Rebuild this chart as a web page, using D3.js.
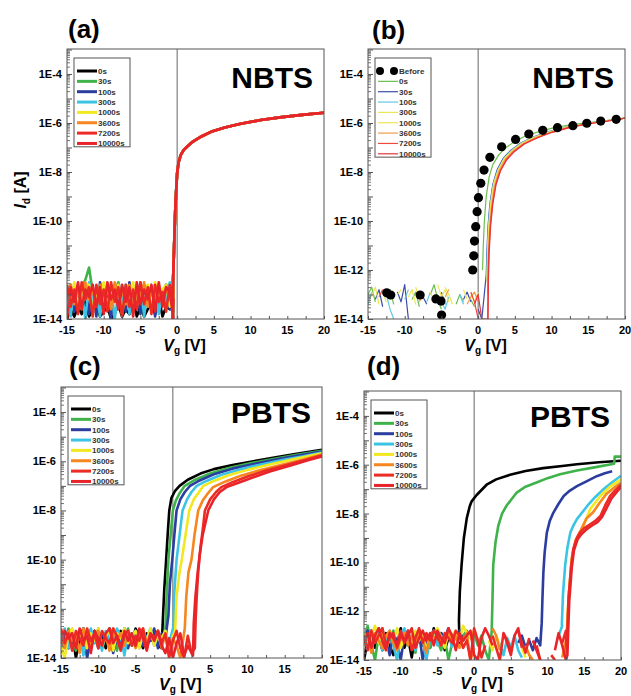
<!DOCTYPE html>
<html>
<head>
<meta charset="utf-8">
<script src="https://cdn.jsdelivr.net/npm/d3@7/dist/d3.min.js"></script>
<style>
body { margin: 0; background: #fff; }
svg { display: block; }
text { font-family: "Liberation Sans", Arial, sans-serif; }
</style>
</head>
<body>
<svg id="fig" width="631" height="696"></svg>
<script>
// stress times shown in every legend
var stressTimes = ['0s', '30s', '100s', '300s', '1000s', '3600s', '7200s', '10000s'];

// gate voltage sweep points used for the off-state (noise) part of each curve
var sweepVg = [-15, -14.5, -14, -13.5, -13, -12.5, -12, -11.5, -11, -10.5, -10, -9.5, -9, -8.5, -8, -7.5, -7, -6.5, -6, -5.5,
    -5, -4.5, -4, -3.5, -3, -2.5, -2, -1.5, -1, -0.5, 0, 0.5, 1, 1.5, 2, 2.5, 3, 3.5, 4, 4.5, 5, 5.5, 6, 6.5, 7, 7.5, 8, 8.5,
    9, 9.5, 10, 10.5, 11, 11.5, 12, 12.5];

// x/y tick labels
var xTicks = [-15, -10, -5, 0, 5, 10, 15, 20];
var yTickExps = [-4, -6, -8, -10, -12, -14];

// ---- (a) NBTS, log10(Id) of the noise floor, one list per stress time
var noiseA = [
    [-14, -13.6, -13.9, -13.5, -13.8, -13.3, -13.9, -13.6, -13.4, -13.9, -13.7, -13.5, -14, -13.8, -13.4, -13.9, -13.6, -13.8, -13.2, -13.9, -13.5, -13.9, -13.6, -13.3, -13.8, -13.1, -13.9, -13.5, -13.6, -13.3],
    [-12.6, -13.4, -12.8, -13.5, -12.7, -12.4, -11.9, -12.9, -13.4, -12.7, -13.2, -12.6, -13.5, -12.9, -12.5, -13.3, -12.8, -13.6, -12.7, -13.1, -12.6, -13.4, -12.8, -13.2, -12.6, -13.5, -12.9, -12.6, -13.3, -12.7],
    [-13.2, -12.6, -13.7, -12.8, -13.5, -12.6, -13.8, -12.7, -13.9, -12.5, -13.6, -12.9, -14, -12.6, -13.4, -12.8, -13.7, -12.5, -13.3, -12.9, -13.8, -12.6, -13.5, -12.7, -13.9, -12.8, -13.4, -12.6, -13.6, -12.9],
    [-12.8, -13.9, -12.6, -13.4, -12.9, -14, -12.5, -13.3, -12.8, -13.9, -12.6, -13.5, -12.7, -14, -12.9, -13.4, -12.6, -13.8, -12.8, -13.2, -12.5, -13.9, -12.7, -13.5, -12.6, -13.8, -12.9, -13.3, -12.5, -13.1],
    [-12.7, -13.3, -12.5, -13.6, -12.8, -13.1, -12.6, -13.7, -12.9, -13.2, -12.5, -13.6, -12.7, -13.3, -12.6, -13.8, -12.8, -13.1, -12.5, -13.5, -12.7, -12.9, -12.6, -13.4, -12.5, -13.2, -12.8, -12.6, -13.5, -12.7],
    [-13.1, -12.6, -13.4, -12.7, -13.6, -12.5, -13.2, -12.8, -13.5, -12.6, -13.3, -12.7, -13.6, -12.5, -13.1, -12.8, -13.4, -12.6, -13.7, -12.7, -13.2, -12.5, -13.5, -12.8, -13.3, -12.6, -13.4, -12.7, -13.2, -12.8],
    [-12.6, -13.5, -12.8, -13.8, -12.5, -13.2, -12.7, -13.9, -12.6, -13.4, -12.8, -13.7, -12.5, -13.3, -12.7, -13.9, -12.6, -13.5, -12.8, -13.6, -12.5, -13.4, -12.7, -13.8, -12.6, -13.3, -12.9, -13.7, -12.6, -13.2],
    [-14, -12.7, -13.3, -12.5, -13.6, -12.8, -13.1, -12.6, -13.5, -12.7, -13.8, -12.5, -13.2, -12.8, -13.6, -12.6, -13.3, -12.7, -13.9, -12.5, -13.4, -12.8, -13.2, -12.6, -13.7, -12.5, -13.5, -12.7, -12.9, -14]
];
// (a) on-state: all stress times overlap, [Vg, log10(Id)]
var curveA = [[-0.6, -14], [-0.55, -12.4], [-0.45, -11.4], [-0.35, -10.4], [-0.25, -9.5], [-0.12, -8.7], [0, -8.05], [0.2, -7.6],
    [0.5, -7.3], [0.9, -7.1], [1.4, -6.95], [2.2, -6.75], [3.3, -6.55], [4.6, -6.36], [6.5, -6.18], [8.5, -6.04], [11.4, -5.88],
    [14, -5.77], [17, -5.67], [20, -5.58]];

// ---- (b) NBTS with "Before" reference
var beforeB = [[-12.45, -12.93], [-11.9, -13.02], [-7.9, -13.02], [-5.75, -13.18], [-5.06, -13.27], [-4.98, -13.84],
    [-0.74, -12.0], [-0.6, -11.42], [-0.5, -10.82], [-0.33, -10.23], [-0.14, -9.62], [0.04, -9.05], [0.36, -8.46], [0.8, -7.92],
    [1.6, -7.4], [3.2, -6.97], [5.1, -6.67], [6.9, -6.45], [8.8, -6.3], [10.8, -6.19], [12.9, -6.11], [14.8, -6.01], [16.7, -5.92], [18.8, -5.85]];
var noiseB = [
    [-13.0, -12.7, -13.3, null, null, -13.1, -12.8, -13.4, null, null, null, null, -13.2, -12.9, -13.5, null, null, -13.0, -12.6, -13.2, -13.6, null, null, null, -13.4, -13.0, -13.3, null, -13.2, -13.5, null, null],
    [null, null, -13.2, -12.8, -13.5, null, null, null, -12.9, -13.3, -12.6, -14, null, null, null, -13.1, -13.4, null, null, null, -12.9, -13.4, null, null, null, null, -13.2, -12.9, -13.3, null, -13.6, -14],
    [-13.4, -12.9, null, null, null, -13.0, -13.6, -14, null, null, -13.2, -12.8, null, null, null, null, -13.3, -12.9, null, null, -13.3, -13.6, -13.1, null, null, -13.0, -13.4, null, null, null, null, null],
    [null, -13.1, -12.7, -13.4, null, null, null, null, -13.0, -12.8, null, null, null, -12.7, -13.2, -12.9, null, null, null, -12.6, -13.1, -12.8, -13.3, null, null, null, -12.8, -13.2, null, null, null, null],
    [null, null, null, null, -12.9, -13.3, null, null, null, null, null, -13.1, -12.8, -13.4, null, null, null, -12.9, -13.3, null, null, -12.7, -13.0, -13.4, null, null, null, null, -13.0, -13.3, -12.9, null],
    [null, null, -13.0, null, null, null, -13.2, -12.9, null, null, null, null, null, null, -13.3, -13.0, null, null, null, null, null, -13.1, -12.8, null, null, null, null, -13.4, -13.1, -12.9, -13.3, null],
    [null, null, null, -13.1, -12.8, null, null, null, null, null, null, null, null, null, null, null, null, null, null, null, null, null, null, null, null, null, null, null, -12.9, -13.3, -14, null],
    [null, null, null, null, null, null, null, null, null, null, null, null, null, null, null, null, null, null, null, null, null, null, null, null, null, null, null, null, null, -13.4, -13.0, -14]
];
var curvesB = [
    [[0.6, -12.0], [0.7, -11.0], [0.85, -10.0], [1.1, -9.0], [1.5, -8.2], [2.0, -7.7], [2.8, -7.3], [3.8, -7.0], [5, -6.75], [6.5, -6.52], [8.5, -6.33], [10.5, -6.18], [13, -6.06], [15.5, -5.97], [18, -5.88], [20, -5.8]],
    [[1.1, -12.2], [1.2, -11.2], [1.35, -10.2], [1.6, -9.3], [2.0, -8.5], [2.6, -7.9], [3.4, -7.45], [4.5, -7.1], [5.8, -6.82], [7.5, -6.57], [9.5, -6.36], [12, -6.17], [14.5, -6.03], [17, -5.93], [20, -5.8]],
    [[1.15, -12.3], [1.25, -11.2], [1.4, -10.2], [1.65, -9.3], [2.05, -8.5], [2.7, -7.9], [3.5, -7.45], [4.6, -7.1], [5.9, -6.82], [7.6, -6.57], [9.6, -6.36], [12, -6.17], [14.5, -6.03], [17, -5.93], [20, -5.8]],
    [[1.2, -12.4], [1.3, -11.2], [1.45, -10.2], [1.7, -9.3], [2.1, -8.5], [2.75, -7.9], [3.55, -7.45], [4.7, -7.1], [6.0, -6.82], [7.7, -6.57], [9.7, -6.37], [12, -6.18], [14.5, -6.04], [17, -5.93], [20, -5.8]],
    [[1.25, -12.5], [1.32, -11.2], [1.5, -10.2], [1.75, -9.3], [2.15, -8.5], [2.8, -7.92], [3.6, -7.47], [4.75, -7.12], [6.05, -6.84], [7.8, -6.58], [9.8, -6.37], [12, -6.18], [14.5, -6.04], [17, -5.93], [20, -5.8]],
    [[1.3, -13.0], [1.35, -11.8], [1.5, -10.6], [1.75, -9.6], [2.2, -8.6], [2.85, -7.95], [3.7, -7.48], [4.8, -7.13], [6.1, -6.85], [7.9, -6.59], [9.9, -6.38], [12.2, -6.18], [14.8, -6.03], [17.2, -5.93], [20, -5.8]],
    [[1.3, -14], [1.35, -12.5], [1.45, -11.3], [1.65, -10.2], [1.95, -9.3], [2.4, -8.5], [3.0, -7.95], [3.8, -7.5], [4.9, -7.15], [6.2, -6.86], [8, -6.6], [10, -6.38], [12.5, -6.18], [15, -6.03], [17.5, -5.93], [20, -5.8]],
    [[1.35, -14], [1.4, -12.5], [1.5, -11.3], [1.7, -10.2], [2.0, -9.3], [2.45, -8.5], [3.05, -7.95], [3.9, -7.5], [5.0, -7.15], [6.3, -6.86], [8.1, -6.6], [10.1, -6.38], [12.5, -6.18], [15, -6.03], [17.5, -5.93], [20, -5.8]]
];

// ---- (c) PBTS, moderate shift
var noiseC = [
    [-13.3, -12.9, -13.6, -13.0, -14, -13.2, -12.8, -13.5, -13.1, -12.9, -13.4, -13.0, -13.6, -12.8, -13.2, -13.5, -12.9, -13.3, -13.0, -13.4, -12.8, -13.1, -13.6, -13.0, -13.3, -12.9, -13.5],
    [-13.0, -13.5, -12.8, -13.3, -13.7, -12.9, -13.2, -13.9, -13.0, -13.4, -12.8, -13.6, -13.1, -13.3, -12.9, -13.7, -13.0, -13.2, -12.8, -13.5, -13.1, -13.4, -12.9, -13.6, -13.0, -13.2, -12.9, -13.4],
    [-13.8, -13.1, -12.9, -13.5, -13.0, -13.7, -12.8, -14, -13.2, -12.9, -13.6, -13.0, -13.3, -12.9, -13.8, -13.1, -13.4, -12.8, -13.6, -13.0, -13.2, -12.9, -13.5, -13.1, -13.3, -12.8, -13.6, -13.0, -13.2],
    [-13.2, -12.8, -13.6, -13.0, -13.3, -12.9, -13.9, -13.1, -12.8, -13.4, -13.0, -13.7, -12.9, -13.2, -13.5, -12.8, -13.1, -13.9, -13.0, -13.3, -12.9, -13.6, -13.0, -13.2, -12.8, -13.5, -13.1, -13.3, -12.9, -13.4],
    [-13.5, -14, -13.0, -12.8, -13.4, -13.1, -12.9, -13.6, -13.0, -13.3, -12.8, -13.5, -13.1, -12.9, -13.7, -13.0, -13.2, -12.8, -13.4, -13.1, -12.9, -13.6, -13.0, -13.3, -12.8, -13.5, -13.0, -13.2, -12.9, -13.6, -13.1],
    [-13.1, -13.6, -12.9, -13.3, -13.0, -13.8, -12.8, -13.2, -13.5, -13.0, -12.9, -13.4, -13.1, -13.7, -12.8, -13.3, -13.0, -13.5, -12.9, -13.2, -13.6, -13.0, -12.8, -13.4, -13.1, -13.3, -12.9, -13.6, -13.0, -13.9, -13.2, -13.5, -14],
    [-12.8, -13.4, -13.0, -13.7, -12.9, -13.2, -13.5, -12.8, -13.3, -13.0, -13.6, -12.9, -13.2, -13.4, -12.8, -13.1, -13.7, -13.0, -12.9, -13.5, -13.1, -13.3, -12.8, -13.6, -13.0, -13.2, -12.9, -13.4, -13.0, -14, -13.3, -12.9, -13.6, -14, -13.1, -13.8],
    [-13.4, -12.9, -13.2, -13.0, -13.6, -12.8, -13.3, -13.1, -13.8, -12.9, -13.2, -13.5, -13.0, -12.8, -13.4, -13.1, -13.6, -12.9, -13.3, -13.0, -13.5, -12.8, -13.2, -13.7, -13.0, -13.3, -12.9, -13.5, -13.8, -13.2, -14, -13.4, -13.0, -13.9, -13.5]
];
var curvesC = [
    [[-1.5, -13.6], [-1.35, -12.5], [-1.15, -11.2], [-0.9, -10.0], [-0.7, -9.0], [-0.48, -8.0], [-0.2, -7.5], [0.3, -7.2], [0.9, -7.0], [2, -6.75], [3.7, -6.5], [5.5, -6.32], [8, -6.15], [10.8, -6.0], [14, -5.83], [17, -5.68], [20, -5.53]],
    [[-1.0, -12.8], [-0.85, -11.6], [-0.6, -10.0], [-0.3, -9.0], [0, -8.0], [0.4, -7.6], [0.9, -7.3], [1.6, -7.0], [3, -6.75], [5, -6.5], [7.5, -6.27], [10.5, -6.07], [14, -5.88], [17, -5.72], [20, -5.57]],
    [[-0.6, -12.3], [-0.4, -11.0], [-0.08, -10.0], [0.2, -9.0], [0.5, -8.0], [1.0, -7.55], [1.6, -7.25], [2.3, -7.0], [3.6, -6.78], [5.5, -6.53], [8, -6.3], [11, -6.1], [14, -5.92], [17, -5.76], [20, -5.6]],
    [[0.1, -12.7], [0.2, -11.3], [0.5, -10.0], [0.9, -9.0], [1.3, -8.0], [1.9, -7.55], [2.5, -7.25], [3.2, -7.0], [4.5, -6.8], [6.5, -6.55], [9, -6.33], [12, -6.12], [15, -5.93], [17.5, -5.8], [20, -5.64]],
    [[0.3, -12.9], [0.5, -11.5], [0.9, -10.5], [1.2, -10.0], [1.7, -9.0], [2.2, -8.0], [2.8, -7.55], [3.4, -7.3], [4.1, -7.0], [5.5, -6.8], [7.5, -6.57], [10, -6.35], [13, -6.13], [16, -5.93], [20, -5.68]],
    [[1.6, -12.8], [1.8, -11.5], [2.1, -10.5], [2.5, -10.0], [2.9, -9.0], [3.4, -8.0], [4.0, -7.6], [4.7, -7.3], [5.4, -7.05], [7, -6.83], [9, -6.6], [11.5, -6.38], [14.5, -6.15], [17.5, -5.93], [20, -5.72]],
    [[2.95, -13.6], [3.05, -12.5], [3.2, -11.5], [3.4, -10.5], [3.7, -9.5], [4.0, -8.8], [4.3, -8.0], [5.0, -7.55], [5.8, -7.25], [6.5, -7.05], [8, -6.85], [10, -6.62], [12.5, -6.38], [15.5, -6.13], [18, -5.93], [20, -5.76]],
    [[2.7, -13.9], [2.8, -12.6], [3.0, -11.6], [3.3, -10.6], [3.6, -9.8], [4.0, -9.0], [4.75, -8.0], [5.5, -7.55], [6.3, -7.25], [7.2, -7.05], [8.8, -6.87], [10.8, -6.65], [13, -6.42], [15.8, -6.17], [18, -5.97], [20, -5.8]]
];

// ---- (d) PBTS, large shift
var noiseD = [
    [-14, -13.2, -12.8, -13.5, -13.0, -13.6, -12.9, -13.4, -13.8, -13.2, -12.7, -13.5, -13.1, -13.9, -13.0, -12.8, -13.4, -13.0, -13.5, -12.7, -13.3, -12.9, -13.6, -13.1, -13.2, -12.9, -13.3],
    [-13.1, -12.6, -13.4, -14, -13.0, -12.7, -13.5, -13.2, -12.8, -13.6, -13.1, -12.9, -13.4, -13.0, -13.7, -12.8, -13.3, -13.0, -13.5, -12.9, -13.2, -13.6, -13.1, -14, -13.3, -12.9, -13.2, -13.0, -12.8, -13.1, -12.9, -13.4, -13.0, -13.6, -14],
    [-13.2, -12.8, -13.6, -13.0, -12.7, -13.4, -13.1, -13.8, -12.9, -13.3, -14, -13.0, -12.8, -13.5, -13.1, -12.9, -14, -13.2, -13.0, -12.8, -13.3, -12.9, -13.1, -12.7, -13.4, -13.0, -12.8, -13.2, -12.9, -13.1, null, null, null, null, null, null, null, null, null, null, null, null, -13.3, -13.0, -13.5, -13.2, -13.6, -13.1, -13.4],
    [-13.0, -13.5, -12.8, -13.2, -12.9, -13.6, -13.1, -12.8, -13.4, -14, -13.0, -12.7, -13.3, -13.0, -13.6, -12.9, -13.2, -14, -13.1, -12.8, -13.4, -13.0, -13.2, -12.9, -13.5, null, null, null, null, null, null, null, null, null, null, null, null, -13.3, -13.8, -13.1, -13.5, -13.0, -13.6, -13.9, null, null, null, null, null, null, null, null, null, -13.0, -12.6],
    [-12.9, -13.4, -13.0, -12.6, -13.3, -12.8, -13.6, -13.0, -13.2, -12.7, -13.5, -13.1, -12.9, -13.4, -12.8, -13.2, -13.0, -13.6, -12.9, -13.3, -12.7, -13.1, -13.5, -12.9, -13.0, -12.8, -13.2, -12.6, -12.9, -13.1, -12.8, null, null, null, -13.2, -13.6, -13.0, -13.4, null, null, null, null, null, -13.5, -13.9, null, null, null, null, null, null, null],
    [-13.4, -13.0, -13.7, -12.9, -13.2, -13.5, -13.0, -12.8, -13.3, -13.6, -13.1, -12.9, -13.4, -13.0, -13.5, -12.8, -13.2, -13.7, -13.0, -13.3, -12.9, -13.4, -13.1, -12.8, -13.3, -13.0, -13.5, -13.2, -12.9, -14, -13.5, null, null, null, null, -12.7, -13.0, -13.6, null, null, null, null, null, null, -13.4, -13.8, -14, null, null, null, null, null, null, null, -13.9, -13.2],
    [-13.0, -13.6, -12.8, -13.3, -13.0, -12.7, -13.4, -13.1, -12.9, -13.5, -13.0, -13.2, -12.8, -13.6, -13.1, -12.7, -13.3, -12.9, -13.2, -12.8, -13.0, -13.4, -12.9, -13.1, -13.3, -12.8, -13.0, -13.5, -13.2, -14, -12.7, -13.2, -13.9, -13.4, null, -13.0, -13.5, -14, -12.9, -13.2, -13.6, null, -12.8, -13.3, -13.7, -13.1, null, -13.4, -14, null, null, -13.8, -14, null, -13.3, -12.8],
    [-13.3, -12.9, -13.5, -13.0, -12.7, -13.2, -13.6, -12.9, -13.1, -13.4, -12.8, -13.3, -13.0, -12.7, -13.5, -13.1, -12.8, -13.2, -12.9, -13.4, -12.8, -13.1, -13.3, -12.7, -13.0, -13.6, -12.9, -13.2, -13.0, -12.8, -13.8, -14, -13.1, -12.7, -13.0, -13.4, null, null, -12.9, -13.3, -13.8, -13.0, -12.7, -13.5, null, null, -13.2, -13.6, -14, null, null, null, -13.6, -12.9, -13.4, -14]
];
var curvesD = [
    [[-2.07, -12.38], [-1.95, -11.2], [-1.71, -10.1], [-1.4, -9.0], [-1.0, -8.19], [-0.6, -7.7], [-0.34, -7.5], [0.34, -7.24], [1.7, -6.82], [3, -6.6], [4.9, -6.41], [7, -6.26], [9.4, -6.14], [12, -6.05], [14, -5.98], [17, -5.9], [20, -5.84]],
    [[2.39, -12.82], [2.5, -11.5], [2.6, -10.1], [2.9, -9.2], [3.29, -8.5], [3.8, -8.0], [4.43, -7.67], [5.8, -7.14], [7, -6.9], [8.5, -6.73], [10, -6.55], [11.7, -6.39], [14, -6.24], [16.2, -6.12], [19.05, -5.96], [19.15, -5.67], [20, -5.67]],
    [[9.2, -12.5], [9.3, -11.5], [9.43, -10.4], [9.6, -9.6], [9.9, -8.78], [10.3, -8.3], [10.8, -7.96], [11.5, -7.6], [12.2, -7.28], [13, -7.07], [14, -6.88], [15.3, -6.68], [16.7, -6.47], [17.8, -6.35], [18.8, -6.27]],
    [[11.94, -12.57], [12.1, -11.3], [12.4, -10.1], [12.7, -9.4], [13.1, -8.78], [13.5, -8.5], [14, -8.23], [15.4, -7.69], [16.5, -7.32], [17.6, -7.01], [18.8, -6.72], [20, -6.45]],
    [[12.6, -12.8], [12.9, -11.3], [13.3, -9.9], [13.8, -9.2], [14.3, -8.9], [14.7, -8.64], [15.8, -7.82], [17.2, -7.28], [18.5, -6.9], [20, -6.6]],
    [[12.6, -13.2], [12.85, -11.5], [13.3, -9.8], [13.8, -9.1], [14.5, -8.7], [15.3, -8.2], [16.2, -7.95], [17, -7.6], [18, -7.2], [19, -6.95], [20, -6.74]],
    [[12.6, -13.7], [12.85, -11.5], [13.2, -10.2], [13.5, -9.46], [14.0, -9.0], [14.4, -8.78], [15.0, -8.6], [15.8, -8.44], [16.5, -8.3], [17.2, -8.1], [17.8, -7.7], [18.5, -7.29], [19.2, -7.05], [20, -6.82]],
    [[12.7, -13.8], [12.95, -11.6], [13.3, -10.2], [13.6, -9.5], [14.1, -9.05], [14.6, -8.85], [15.3, -8.65], [16, -8.5], [16.8, -8.35], [17.4, -8.15], [18, -7.8], [18.7, -7.38], [19.4, -7.12], [20, -6.92]]
];

var thickColors = ['#000000', '#3fb34a', '#2b3d9f', '#3cc4e4', '#f1e81f', '#f6861f', '#ec2b25', '#e8242a'];
var thinColors = ['#6cbf4f', '#3a4ea8', '#61c8e6', '#eee455', '#eee455', '#f39a45', '#ee4a3c', '#e8343a'];

var svg = d3.select('#fig');

var panels = [
    { id: 'a', x0: 67, x1: 324, y0: 49, y1: 319, tag: '(a)', tagX: 68, tagY: 38, title: 'NBTS', titleY: 39, xtY: 32, noise: noiseA, curves: null, thin: false, yLabel: true },
    { id: 'b', x0: 368, x1: 625, y0: 49, y1: 319, tag: '(b)', tagX: 372, tagY: 39, title: 'NBTS', titleY: 39, xtY: 32, noise: noiseB, curves: curvesB, thin: true, yLabel: false },
    { id: 'c', x0: 61, x1: 322, y0: 387, y1: 658, tag: '(c)', tagX: 69, tagY: 375, title: 'PBTS', titleY: 36, xtY: 32, noise: noiseC, curves: curvesC, thin: false, yLabel: false },
    { id: 'd', x0: 364, x1: 621, y0: 391, y1: 660, tag: '(d)', tagX: 367, tagY: 375, title: 'PBTS', titleY: 36, xtY: 29, noise: noiseD, curves: curvesD, thin: false, yLabel: false }
];

function seriesPoints(noise, curve) {
    var pts = noise.map(function(v, i) {
        return v === null ? null : [sweepVg[i], v];
    });
    return pts.concat(curve);
}

panels.forEach(function(p) {
    var x = d3.scaleLinear().domain([-15, 20]).range([p.x0, p.x1]);
    var y = d3.scaleLog().domain([1e-14, Math.pow(10, -2.98)]).range([p.y1, p.y0]);
    var g = svg.append('g');

    g.append('clipPath').attr('id', 'clip-' + p.id)
        .append('rect').attr('x', p.x0).attr('y', p.y0).attr('width', p.x1 - p.x0).attr('height', p.y1 - p.y0);

    // zero line
    g.append('line').attr('x1', x(0)).attr('x2', x(0)).attr('y1', p.y0).attr('y2', p.y1)
        .attr('stroke', '#666').attr('stroke-width', 1);

    var line = d3.line()
        .defined(function(d) { return d !== null; })
        .x(function(d) { return x(d[0]); })
        .y(function(d) { return y(Math.pow(10, d[1])); });

    var plot = g.append('g').attr('clip-path', 'url(#clip-' + p.id + ')');
    p.noise.forEach(function(noise, i) {
        var curve = p.curves ? p.curves[i] : curveA;
        plot.append('path')
            .attr('d', line(seriesPoints(noise, curve)))
            .attr('fill', 'none')
            .attr('stroke', p.thin ? thinColors[i] : thickColors[i])
            .attr('stroke-width', p.thin ? 1.2 : 2.6)
            .attr('stroke-linejoin', 'round');
    });
    if (p.id === 'b') {
        plot.selectAll('circle').data(beforeB).enter().append('circle')
            .attr('cx', function(d) { return x(d[0]); })
            .attr('cy', function(d) { return y(Math.pow(10, d[1])); })
            .attr('r', 4.6)
            .attr('fill', '#000');
    }

    // axes with inward ticks
    var yAxis = d3.axisRight(y)
        .tickValues(d3.range(-14, -2).map(function(e) { return Math.pow(10, e); }))
        .tickSize(5).tickFormat('');
    var yMinor = [];
    for (var e = -14; e < -3; e++) {
        for (var m = 2; m < 10; m++) yMinor.push(m * Math.pow(10, e));
    }
    g.append('g').attr('transform', 'translate(' + p.x0 + ',0)').call(yAxis)
        .call(function(s) { s.select('.domain').remove(); s.selectAll('line').attr('stroke', '#555'); });
    g.append('g').attr('transform', 'translate(' + p.x0 + ',0)')
        .call(d3.axisRight(y).tickValues(yMinor).tickSize(3).tickFormat(''))
        .call(function(s) { s.select('.domain').remove(); s.selectAll('line').attr('stroke', '#777'); });

    g.append('g').attr('transform', 'translate(0,' + p.y1 + ')')
        .call(d3.axisTop(x).tickValues(d3.range(-15, 20.1, 2.5)).tickSize(3).tickFormat(''))
        .call(function(s) { s.select('.domain').remove(); s.selectAll('line').attr('stroke', '#555'); });

    yTickExps.forEach(function(ex) {
        g.append('text').attr('x', p.x0 - 5).attr('y', y(Math.pow(10, ex)) + 4)
            .attr('text-anchor', 'end').attr('font-size', 11).attr('font-weight', 'bold')
            .text('1E' + ex);
    });
    xTicks.forEach(function(v) {
        g.append('text').attr('x', x(v)).attr('y', p.y1 + 15)
            .attr('text-anchor', 'middle').attr('font-size', 11).attr('font-weight', 'bold')
            .text(v);
    });

    // frame
    g.append('rect').attr('x', p.x0).attr('y', p.y0).attr('width', p.x1 - p.x0).attr('height', p.y1 - p.y0)
        .attr('fill', 'none').attr('stroke', '#555').attr('stroke-width', 1);

    // axis titles
    var xt = g.append('text').attr('x', x(1)).attr('y', p.y1 + p.xtY)
        .attr('text-anchor', 'middle').attr('font-size', 16).attr('font-weight', 'bold');
    xt.append('tspan').attr('font-style', 'italic').text('V');
    xt.append('tspan').attr('font-size', 10).attr('dy', 3).text('g');
    xt.append('tspan').attr('dy', -3).text(' [V]');

    if (p.yLabel) {
        var yt = g.append('text').attr('transform', 'translate(26,' + ((p.y0 + p.y1) / 2 + 6) + ') rotate(-90)')
            .attr('text-anchor', 'middle').attr('font-size', 16).attr('font-weight', 'bold');
        yt.append('tspan').attr('font-style', 'italic').text('I');
        yt.append('tspan').attr('font-size', 10).attr('dy', 4).text('d');
        yt.append('tspan').attr('dy', -4).text(' [A]');
    }

    // panel tag and title
    g.append('text').attr('x', p.tagX).attr('y', p.tagY)
        .attr('font-family', '"Noto Sans", sans-serif').attr('font-size', 26).attr('font-weight', 'bold')
        .text(p.tag);
    g.append('text').attr('x', p.x1 - 11).attr('y', p.y0 + p.titleY).attr('text-anchor', 'end')
        .attr('font-family', '"Noto Sans", sans-serif').attr('font-size', 30).attr('font-weight', 'bold')
        .text(p.title);

    // legend
    var labels = p.id === 'b' ? ['Before'].concat(stressTimes) : stressTimes;
    var lx = p.x0 + 7;
    var ly = p.y0 + 9;
    var rowH = 10.35;
    g.append('rect').attr('x', lx).attr('y', ly).attr('width', 56)
        .attr('height', labels.length * rowH + 6)
        .attr('fill', '#fff').attr('stroke', '#555').attr('stroke-width', 1);
    labels.forEach(function(lab, i) {
        var yy = p.y0 + 22 + i * rowH;
        if (p.id === 'b' && i === 0) {
            g.append('circle').attr('cx', lx + 5).attr('cy', yy).attr('r', 4).attr('fill', '#000');
            g.append('circle').attr('cx', lx + 19).attr('cy', yy).attr('r', 4).attr('fill', '#000');
        } else {
            var ci = p.id === 'b' ? i - 1 : i;
            g.append('line').attr('x1', lx + 3).attr('x2', lx + 23).attr('y1', yy).attr('y2', yy)
                .attr('stroke', p.thin ? thinColors[ci] : thickColors[ci])
                .attr('stroke-width', p.thin ? 1.2 : 3);
        }
        g.append('text').attr('x', lx + 24).attr('y', yy + 3)
            .attr('font-size', 8).attr('font-weight', 'bold').attr('fill', '#333')
            .text(lab);
    });
});
</script>
</body>
</html>
